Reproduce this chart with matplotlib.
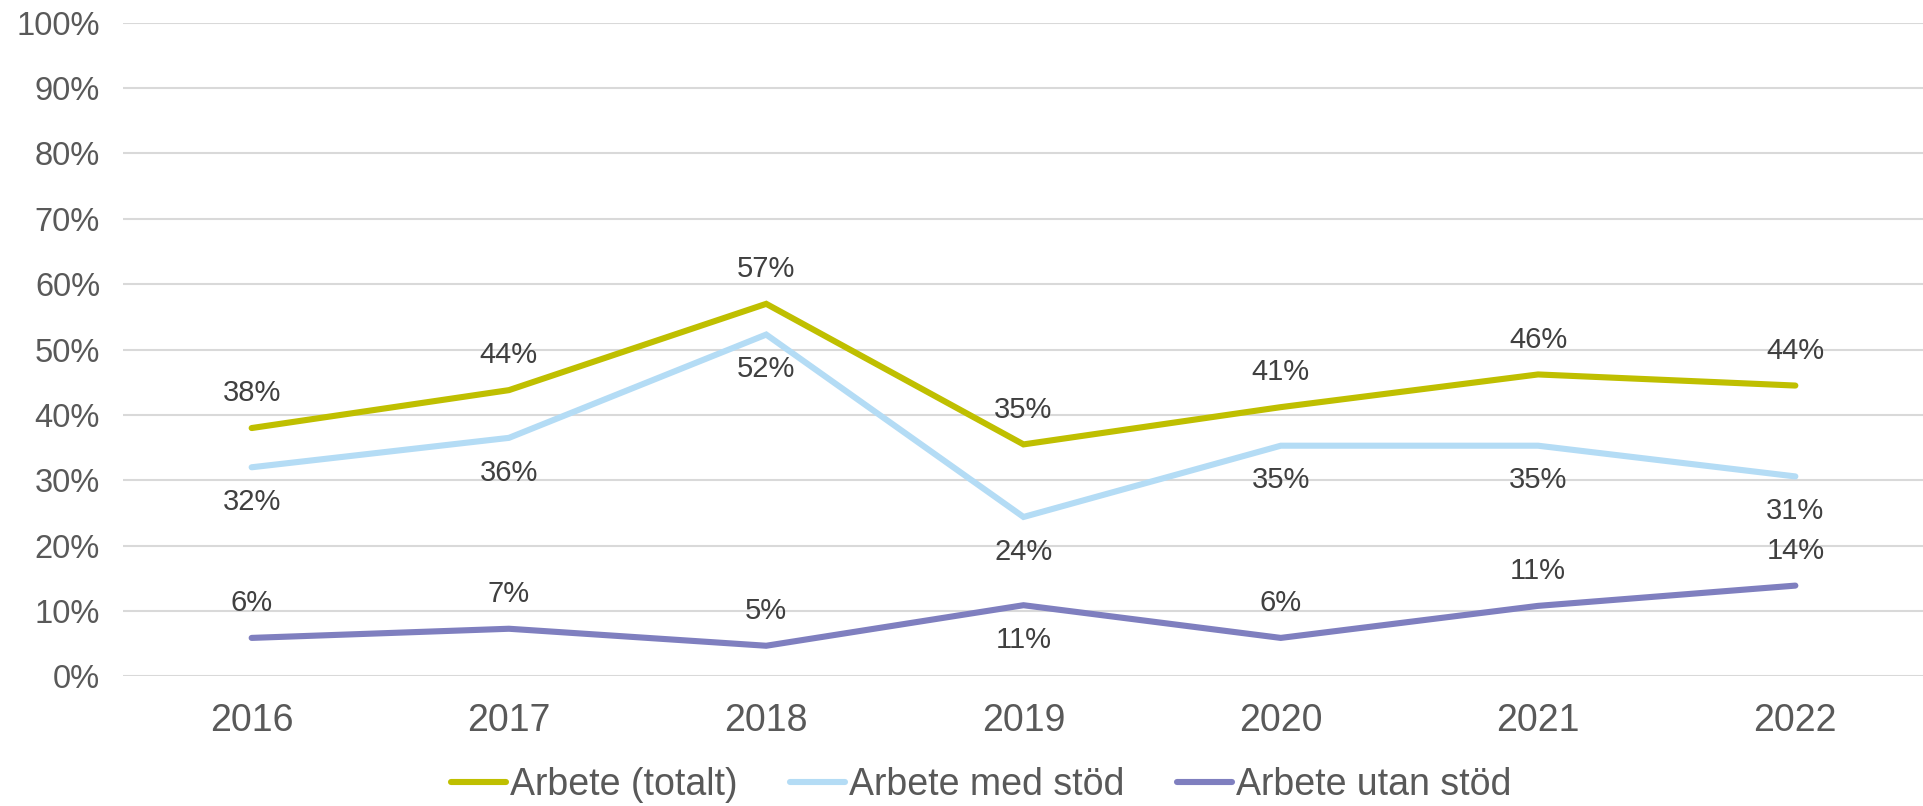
import matplotlib.pyplot as plt

# Andel i arbete per år (läst från diagrammet)
years = ["2016", "2017", "2018", "2019", "2020", "2021", "2022"]
totalt = [38.0, 43.8, 57.0, 35.5, 41.2, 46.2, 44.5]
med_stod = [32.0, 36.5, 52.3, 24.4, 35.3, 35.3, 30.6]
utan_stod = [5.9, 7.3, 4.7, 10.9, 5.9, 10.8, 13.9]

# etiketter som visas (avrundade)
totalt_lbl = ["38%", "44%", "57%", "35%", "41%", "46%", "44%"]
med_lbl = ["32%", "36%", "52%", "24%", "35%", "35%", "31%"]
utan_lbl = ["6%", "7%", "5%", "11%", "6%", "11%", "14%"]
# +1 = ovanför linjen, -1 = under
totalt_side = [1, 1, 1, 1, 1, 1, 1]
med_side = [-1, -1, -1, -1, -1, -1, -1]
utan_side = [1, 1, 1, -1, 1, 1, 1]


def main():
    plt.rcParams["font.family"] = ["Liberation Sans", "DejaVu Sans"]

    fig = plt.figure(figsize=(19.24, 8.06), dpi=100)
    ax = fig.add_axes([123 / 1924, 0.1607, 1 - 123 / 1924, 0.9718 - 0.1607])

    x = list(range(len(years)))
    series = [
        ("Arbete (totalt)", totalt, totalt_lbl, totalt_side, "#BFBF00"),
        ("Arbete med stöd", med_stod, med_lbl, med_side, "#B4DCF5"),
        ("Arbete utan stöd", utan_stod, utan_lbl, utan_side, "#7F7FBF"),
    ]
    for name, vals, lbls, sides, col in series:
        ax.plot(x, vals, color=col, lw=4.4, solid_capstyle="round",
                solid_joinstyle="miter", label=name, zorder=3)
        for xi, v, t, s in zip(x, vals, lbls, sides):
            ax.annotate(t, (xi, v), xytext=(0, 25 * s), textcoords="offset points",
                        ha="center", va="center", fontsize=21, color="#404040")

    ax.set_xlim(-0.5, 6.5)
    ax.set_ylim(0, 100)
    ax.set_yticks(range(0, 101, 10))
    ax.set_yticklabels([f"{v}%" for v in range(0, 101, 10)])
    ax.set_xticks(x)
    ax.set_xticklabels(years)
    ax.tick_params(axis="y", length=0, pad=16.5, labelsize=23.5, labelcolor="#595959")
    ax.tick_params(axis="x", length=0, pad=19, labelsize=27, labelcolor="#595959")
    ax.grid(axis="y", color="#D9D9D9", lw=1.5)
    ax.set_axisbelow(True)
    for sp in ax.spines.values():
        sp.set_visible(False)

    fig.legend(loc="center", bbox_to_anchor=(981 / 1924, 0.026), ncol=3,
               frameon=False, fontsize=27, labelcolor="#595959",
               handlelength=1.47, handletextpad=0.1, columnspacing=1.4)

    fig.savefig("out.png", dpi=100)


if __name__ == "__main__":
    main()
